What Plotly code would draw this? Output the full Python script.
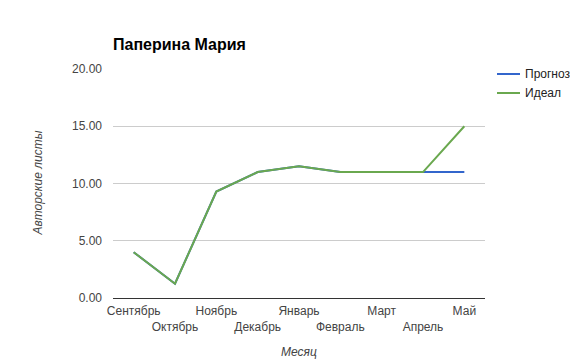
import plotly.graph_objects as go

months = ["Сентябрь", "Октябрь", "Ноябрь", "Декабрь", "Январь", "Февраль", "Март", "Апрель", "Май"]
forecast = [4.0, 1.25, 9.3, 11.0, 11.5, 11.0, 11.0, 11.0, 11.0]
ideal = [4.0, 1.25, 9.3, 11.0, 11.5, 11.0, 11.0, 11.0, 15.0]
y_ticks = [0, 5, 10, 15, 20]
series_names = ["Прогноз", "Идеал"]
series_colors = ["#3366cc", "#6aa84f"]

# page has an 8px body margin; the figure is sized so that it fills the window
OFF = 8
W, H = 578 - OFF, 359 - OFF
L, R, T, B = 113 - OFF, 93, 69 - OFF, 61
PW, PH = W - L - R, H - T - B

ticktext = [m if i % 2 == 0 else "<br>" + m for i, m in enumerate(months)]

fig = go.Figure()
for name, vals, col in zip(series_names, [forecast, ideal], series_colors):
    fig.add_trace(go.Scatter(x=list(range(len(months))), y=vals, mode="lines", name=name,
                             line=dict(color=col, width=2), showlegend=False))

# manual legend (short keys like the reference)
shapes, annotations = [], []
for i, (name, col) in enumerate(zip(series_names, series_colors)):
    yy = 1 - (74 + 19 * i - OFF - T) / PH
    shapes.append(dict(type="line", xref="paper", yref="paper",
                       x0=(497 - OFF - L) / PW, x1=(520 - OFF - L) / PW,
                       y0=yy, y1=yy, line=dict(color=col, width=2)))
    annotations.append(dict(text=name, xref="paper", yref="paper", x=(523 - OFF - L) / PW, y=yy,
                            xanchor="left", yanchor="middle", showarrow=False,
                            font=dict(size=12, color="#222")))

annotations += [
    dict(text="<i>Месяц</i>", xref="paper", yref="paper", x=0.5, y=-54 / PH, xanchor="center",
         yanchor="middle", showarrow=False, font=dict(size=12, color="#444")),
    dict(text="<i>Авторские листы</i>", xref="paper", yref="paper", x=-76 / PW, y=0.5,
         xanchor="center", yanchor="middle", textangle=-90, showarrow=False,
         font=dict(size=12, color="#444")),
]

fig.update_layout(
    width=W, height=H,
    margin=dict(l=L, r=R, t=T, b=B, autoexpand=False),
    paper_bgcolor="white", plot_bgcolor="white",
    font=dict(family="Liberation Sans, Arial, sans-serif", size=12, color="#444"),
    title=dict(text="<b>Паперина Мария</b>", x=L / W, xanchor="left", y=1 - (44 - OFF) / H,
               yanchor="middle", font=dict(size=16, color="#000")),
    showlegend=False,
    shapes=shapes,
    annotations=annotations,
)
fig.update_xaxes(range=[-0.5, len(months) - 0.5], tickmode="array", tickvals=list(range(len(months))),
                 ticktext=ticktext, tickangle=0, automargin=False, showgrid=False, showline=True,
                 linecolor="#333", linewidth=1, ticks="", tickfont=dict(size=12, color="#444"),
                 ticklabelstandoff=2, zeroline=False, fixedrange=True)
fig.update_yaxes(range=[0, 20], tickvals=y_ticks, tickformat=".2f", showgrid=True, gridcolor="#ccc",
                 automargin=False, zeroline=False, ticks="", tickfont=dict(size=12, color="#444"),
                 ticklabelstandoff=10, fixedrange=True)

fig.write_html("out.html")
